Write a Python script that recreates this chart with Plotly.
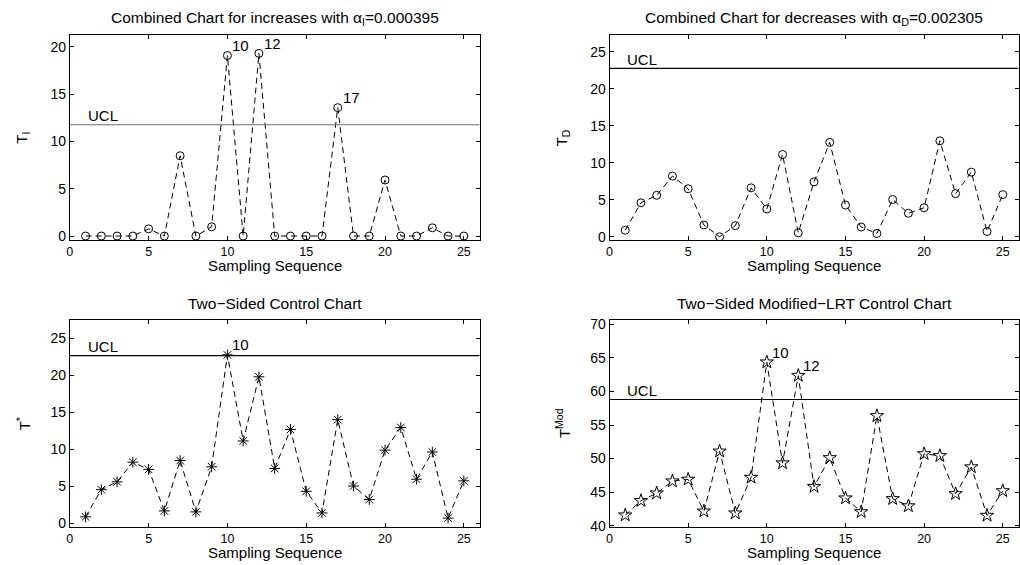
import plotly.graph_objects as go

# ---------------- data ----------------
samples = list(range(1, 26))
T_I = [0, 0, 0, 0, 0.76, 0, 8.48, 0, 0.97, 19.07, 0, 19.3, 0, 0, 0, 0, 13.56, 0, 0, 5.92, 0, 0, 0.87, 0, 0]
T_D = [0.88, 4.59, 5.6, 8.2, 6.48, 1.59, 0.0, 1.5, 6.61, 3.75, 11.11, 0.53, 7.41, 12.74, 4.28, 1.32, 0.44,
       5.03, 3.17, 3.92, 12.96, 5.82, 8.73, 0.71, 5.69]
T_star = [0.88, 4.55, 5.61, 8.26, 7.29, 1.68, 8.48, 1.55, 7.64, 22.75, 11.13, 19.79, 7.42, 12.68, 4.33, 1.41,
          14.0, 5.04, 3.22, 9.89, 12.94, 5.96, 9.63, 0.71, 5.74]
T_mod = [41.56, 43.71, 44.84, 46.64, 46.89, 42.15, 51.09, 41.86, 47.18, 64.38, 49.33, 62.37, 45.81, 50.11,
         44.1, 42.05, 56.37, 44.0, 42.93, 50.7, 50.41, 44.74, 48.74, 41.51, 45.18]
UCL_I = 11.76
UCL_D = 22.75
UCL_star = 22.66
UCL_mod = 58.81
signals_I = [10, 12, 17]
signals_star = [10]
signals_mod = [10, 12]

titles = ["Combined Chart for increases with α<sub>I</sub>=0.000395",
          "Combined Chart for decreases with α<sub>D</sub>=0.002305",
          "Two−Sided Control Chart",
          "Two−Sided Modified−LRT Control Chart"]
ytitles = ["T<sub>I</sub>", "T<sub>D</sub>", "T<sup>*</sup>", "T<sup>Mod</sup>"]
xtitle = "Sampling Sequence"
x_ticks = [0, 5, 10, 15, 20, 25]

FONT = "Liberation Sans, Arial, Helvetica, sans-serif"
W, H = 1020, 565

# panel geometry in pixels: (left, right, top, bottom)
panels = [(67, 478, 32, 240.7), (608.3, 1018.5, 32, 240.7),
          (67, 478, 322.5, 533), (608.3, 1018.5, 322.5, 533)]
yranges = [[-0.42, 21.2], [-0.44, 27.2], [-0.44, 27.43], [39.85, 70.63]]
yticks = [[0, 5, 10, 15, 20], [0, 5, 10, 15, 20, 25], [0, 5, 10, 15, 20, 25],
          [40, 45, 50, 55, 60, 65, 70]]
series = [T_I, T_D, T_star, T_mod]
ucls = [UCL_I, UCL_D, UCL_star, UCL_mod]
ucl_colors = ["#6e6e6e", "black", "black", "black"]
symbols = ["circle-open", "circle-open", "asterisk-open", "star-open"]
msizes = [8, 8, 9, 10]
signal_lists = [signals_I, [], signals_star, signals_mod]

fig = go.Figure()
annotations = []
layout_axes = {}

for k in range(4):
    l, r, t, b = panels[k]
    xa = "x" if k == 0 else f"x{k+1}"
    ya = "y" if k == 0 else f"y{k+1}"
    xkey = "xaxis" if k == 0 else f"xaxis{k+1}"
    ykey = "yaxis" if k == 0 else f"yaxis{k+1}"

    fig.add_trace(go.Scatter(
        x=samples, y=series[k], mode="lines+markers", xaxis=xa, yaxis=ya,
        line=dict(color="black", width=1, dash="6px,4px"),
        marker=dict(symbol=symbols[k], size=msizes[k], color="black",
                    line=dict(color="black", width=1)),
        showlegend=False, hoverinfo="x+y"))

    # UCL line
    fig.add_trace(go.Scatter(
        x=[0, 26], y=[ucls[k], ucls[k]], mode="lines", xaxis=xa, yaxis=ya,
        line=dict(color=ucl_colors[k], width=1.2), showlegend=False, hoverinfo="skip"))

    layout_axes[xkey] = dict(
        domain=[l / W, r / W], range=[0, 26], anchor=ya,
        tickvals=x_ticks, ticks="inside", ticklen=4, tickcolor="black",
        showline=True, linecolor="black", linewidth=1, mirror="ticks",
        showgrid=False, zeroline=False,
        tickfont=dict(family=FONT, size=12.5, color="black"))
    layout_axes[ykey] = dict(
        domain=[1 - b / H, 1 - t / H], range=yranges[k], anchor=xa,
        tickvals=yticks[k], ticks="inside", ticklen=4, tickcolor="black",
        showline=True, linecolor="black", linewidth=1, mirror="ticks",
        showgrid=False, zeroline=False,
        tickfont=dict(family=FONT, size=14, color="black"))

    # title
    annotations.append(dict(text=titles[k], x=(l + r) / 2 / W, y=1 - (t - 17) / H,
                            xref="paper", yref="paper", xanchor="center", yanchor="middle",
                            showarrow=False, font=dict(family=FONT, size=15.5, color="black")))
    # x title
    annotations.append(dict(text=xtitle, x=(l + r) / 2 / W, y=1 - (b + 26) / H,
                            xref="paper", yref="paper", xanchor="center", yanchor="middle",
                            showarrow=False, font=dict(family=FONT, size=15, color="black")))
    # y title
    annotations.append(dict(text=ytitles[k], x=(l - 47) / W, y=1 - ((t + b) / 2) / H,
                            xref="paper", yref="paper", xanchor="center", yanchor="middle",
                            textangle=-90, showarrow=False,
                            font=dict(family=FONT, size=15, color="black")))
    # UCL label
    annotations.append(dict(text="UCL", x=1, y=ucls[k], xref=xa, yref=ya,
                            xanchor="left", yanchor="middle", yshift=9, showarrow=False,
                            font=dict(family=FONT, size=15, color="black")))
    # signal labels
    for s in signal_lists[k]:
        annotations.append(dict(text=str(s), x=s, y=series[k][s - 1], xref=xa, yref=ya,
                                xanchor="left", yanchor="middle", xshift=3, yshift=10,
                                showarrow=False,
                                font=dict(family=FONT, size=15, color="black")))

fig.update_layout(
    width=W, height=H, margin=dict(l=0, r=0, t=0, b=0),
    paper_bgcolor="white", plot_bgcolor="white",
    annotations=annotations, **layout_axes)

fig.write_html("out.html")
